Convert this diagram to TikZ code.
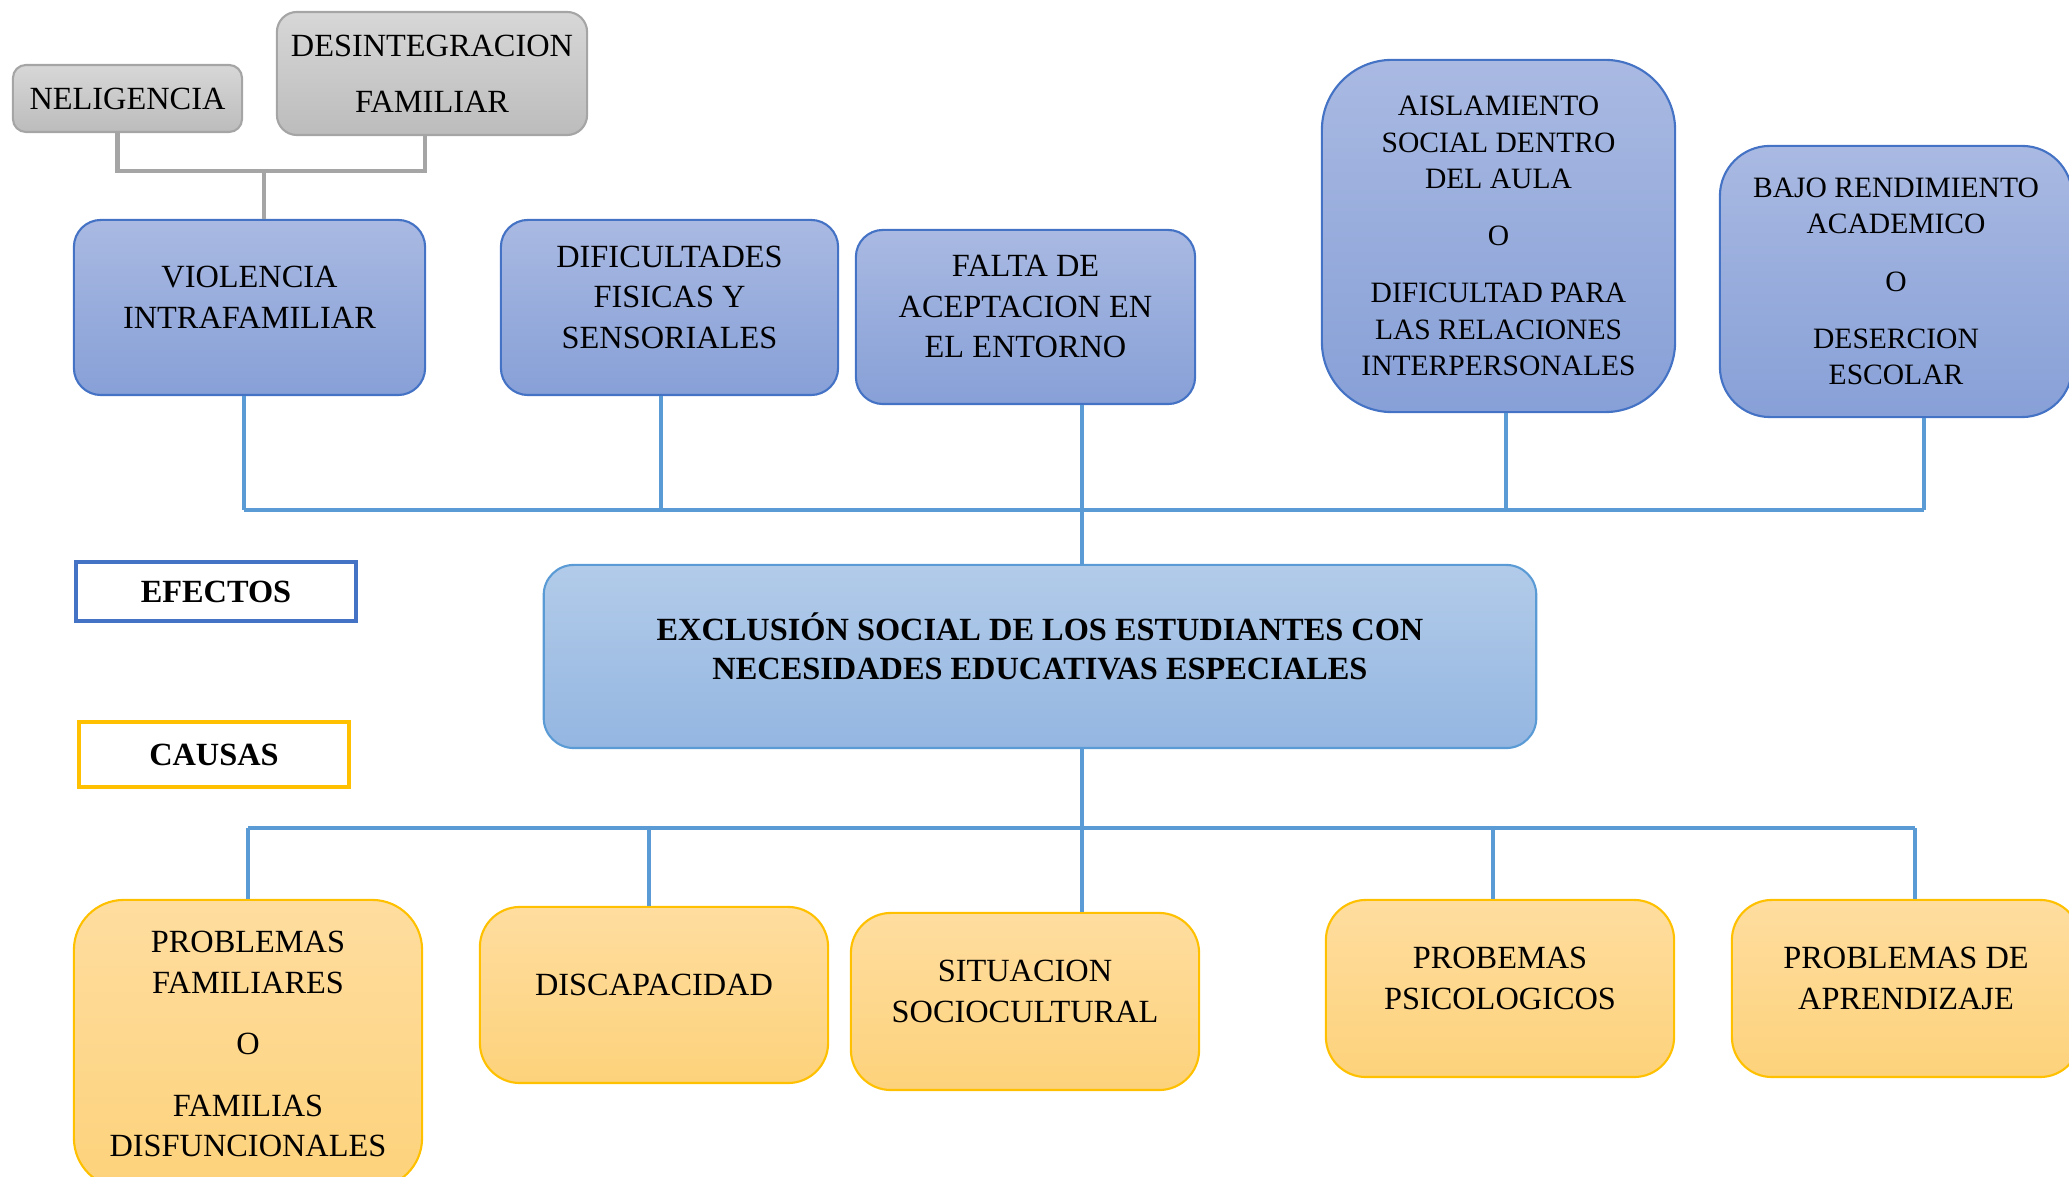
\documentclass[tikz,border=0pt]{standalone}
\usepackage{fontspec}
\setmainfont{Liberation Serif}
\usetikzlibrary{positioning}
\definecolor{efborde}{HTML}{4472C4}
\definecolor{eftop}{HTML}{A9B9E2}
\definecolor{efbot}{HTML}{87A0D7}
\definecolor{nucborde}{HTML}{5B9BD5}
\definecolor{nuctop}{HTML}{B2CBE9}
\definecolor{nucbot}{HTML}{94B6E1}
\definecolor{caborde}{HTML}{FFC000}
\definecolor{catop}{HTML}{FEDD9F}
\definecolor{cabot}{HTML}{FDD27B}
\definecolor{faborde}{HTML}{A5A5A5}
\definecolor{fatop}{HTML}{D7D7D7}
\definecolor{fabot}{HTML}{BCBCBC}
\tikzset{
  caja/.style={
    draw,
    rectangle,
    align=center,
    inner sep=0pt,
    line width=0.6pt,
    font=\fontsize{9.2}{11.5}\selectfont
  },
  efecto/.style={caja, draw=efborde, top color=eftop, bottom color=efbot, rounded corners=0.27cm},
  causa/.style={caja, draw=caborde, top color=catop, bottom color=cabot, rounded corners=0.4cm},
  nucleo/.style={caja, draw=nucborde, top color=nuctop, bottom color=nucbot, rounded corners=0.3cm,
    font=\fontsize{9.2}{11.3}\selectfont\bfseries},
  factor/.style={caja, draw=faborde, top color=fatop, bottom color=fabot, rounded corners=0.13cm},
  largo/.style={font=\fontsize{8.4}{10.3}\selectfont},
  subir/.style={text depth=5.9pt},
  etiqueta/.style={caja, fill=white, line width=1.1pt, font=\fontsize{9.2}{11}\selectfont\bfseries},
  enlace/.style={draw=nucborde, line width=0.9pt},
  enlacegris/.style={draw=faborde, line width=1.2pt}
}
\begin{document}
\begin{tikzpicture}[x=0.01cm, y=-0.01cm]
    \useasboundingbox (0,0) rectangle (2069,1177);

    % factores familiares
    \node[factor, minimum width=2.29cm, minimum height=0.67cm] (neli) at (127.5,98.5) {NELIGENCIA};
    \node[factor, minimum width=3.10cm, minimum height=1.23cm, rounded corners=0.2cm] (desint) at (432,73.5) {DESINTEGRACION\\[4.5pt]FAMILIAR};

    % efectos
    \node[efecto, subir, minimum width=3.51cm, minimum height=1.75cm] (viol) at (249.5,307.5) {VIOLENCIA\\INTRAFAMILIAR};
    \node[efecto, subir, minimum width=3.37cm, minimum height=1.75cm] (dific) at (669.5,307.5) {DIFICULTADES\\FISICAS Y\\SENSORIALES};
    \node[efecto, subir, minimum width=3.39cm, minimum height=1.74cm] (falta) at (1025.5,317) {FALTA DE\\ACEPTACION EN\\EL ENTORNO};
    \node[efecto, largo, minimum width=3.53cm, minimum height=3.52cm, rounded corners=0.7cm] (aisla) at (1498.5,236) {AISLAMIENTO\\SOCIAL DENTRO\\DEL AULA\\[6pt]O\\[6pt]DIFICULTAD PARA\\LAS RELACIONES\\INTERPERSONALES};
    \node[efecto, largo, minimum width=3.52cm, minimum height=2.71cm, rounded corners=0.5cm] (bajo) at (1896,281.5) {BAJO RENDIMIENTO\\ACADEMICO\\[6pt]O\\[6pt]DESERCION\\ESCOLAR};

    % problema central
    \node[nucleo, subir, minimum width=9.92cm, minimum height=1.83cm] (central) at (1040,656.5) {EXCLUSIÓN SOCIAL DE LOS ESTUDIANTES CON\\NECESIDADES EDUCATIVAS ESPECIALES};

    \node[etiqueta, draw=efborde, minimum width=2.80cm, minimum height=0.59cm] (efectos) at (216,591.5) {EFECTOS};
    \node[etiqueta, draw=caborde, minimum width=2.70cm, minimum height=0.65cm] (causas) at (214,754.5) {CAUSAS};

    % causas
    \node[causa, minimum width=3.48cm, minimum height=2.88cm, rounded corners=0.5cm] (pfam) at (248,1044) {PROBLEMAS\\FAMILIARES\\[6pt]O\\[6pt]FAMILIAS\\DISFUNCIONALES};
    \node[causa, subir, minimum width=3.48cm, minimum height=1.76cm] (disc) at (654,995) {DISCAPACIDAD};
    \node[causa, subir, minimum width=3.48cm, minimum height=1.77cm] (situ) at (1025,1001.5) {SITUACION\\SOCIOCULTURAL};
    \node[causa, subir, minimum width=3.48cm, minimum height=1.77cm] (psico) at (1500,988.5) {PROBEMAS\\PSICOLOGICOS};
    \node[causa, subir, minimum width=3.48cm, minimum height=1.77cm] (apren) at (1906,988.5) {PROBLEMAS DE\\APRENDIZAJE};

    \coordinate (fam) at (264,171);
    \coordinate (ebus) at (1082,510);
    \coordinate (cbus) at (1082,828);

    \draw[enlacegris] ([xshift=-0.1cm]neli.south) |- (fam) -| ([xshift=-0.07cm]desint.south);
    \draw[enlacegris] (fam) -- (fam |- viol.north);

    % efectos
    \foreach \n/\dx in {viol/-0.055, dific/-0.085, aisla/0.075, bajo/0.28} {
        \coordinate (pie) at ([xshift=\dx cm]\n.south);
        \draw[enlace] (pie) -- (pie |- ebus);
    }
    \draw[enlace] ([xshift=-0.055cm]viol.south |- ebus) -- ([xshift=0.28cm]bajo.south |- ebus);
    \draw[enlace] (ebus |- falta.south) -- (ebus |- central.north);

    % causas
    \foreach \n/\dx in {pfam/0, disc/-0.05, psico/-0.07, apren/0.09} {
        \coordinate (cab) at ([xshift=\dx cm]\n.north);
        \draw[enlace] (cab) -- (cab |- cbus);
    }
    \draw[enlace] (pfam.north |- cbus) -- ([xshift=0.09cm]apren.north |- cbus);
    \draw[enlace] (cbus |- central.south) -- (cbus |- situ.north);
\end{tikzpicture}
\end{document}
